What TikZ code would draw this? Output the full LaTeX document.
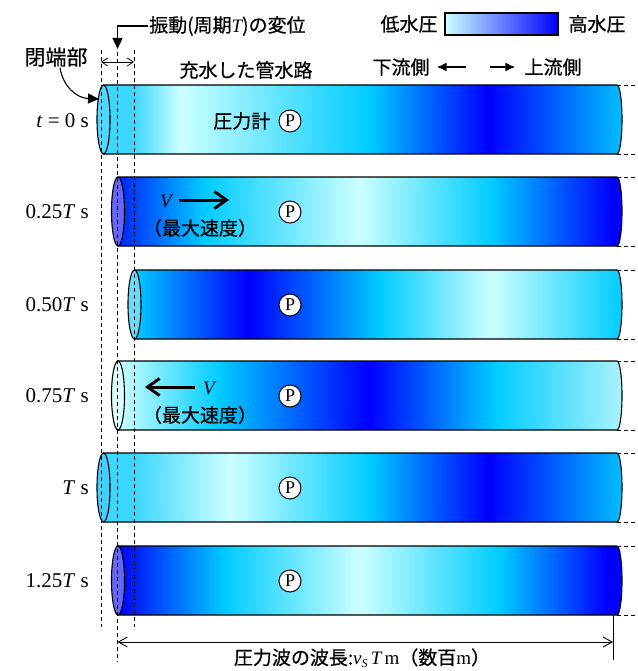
\documentclass[tikz,border=0pt]{standalone}
\usepackage{fontspec}
\setmainfont{Liberation Serif}
\newfontfamily\jpfont[FakeBold=0.6]{Noto Sans CJK JP}
\usetikzlibrary{arrows.meta,positioning}
\definecolor{plow}{HTML}{CCFFFF}
\definecolor{pmid}{HTML}{00CCFF}
\definecolor{phigh}{HTML}{0000FF}
\definecolor{pmidlow}{HTML}{3CD6FF}
\definecolor{pmidend}{HTML}{00BEFF}
\definecolor{plowend}{HTML}{AAF2FF}
\definecolor{phighend}{HTML}{0022FF}
\definecolor{capcyan}{HTML}{50D8FF}
\definecolor{capblue}{HTML}{6666F5}
\definecolor{capsky}{HTML}{66DDFF}
\definecolor{cappale}{HTML}{DDFFFF}
\definecolor{capaqua}{HTML}{44D0FF}
\newcommand{\serifit}[1]{{\rmfamily\itshape #1}}
% pressure profiles along the pipe, one per time step
\pgfdeclarehorizontalshading{wavezero}{100bp}{color(0bp)=(pmidlow); color(25bp)=(pmidlow);
  color(27.9bp)=(pmidlow); color(32.4bp)=(plow); color(50.6bp)=(pmid); color(62.1bp)=(phigh);
  color(75bp)=(pmidend); color(100bp)=(pmidend)}
\pgfdeclarehorizontalshading{wavequarter}{100bp}{color(0bp)=(phighend); color(25bp)=(phighend);
  color(33.6bp)=(pmid); color(48.9bp)=(plow); color(62.1bp)=(pmid); color(74bp)=(phigh);
  color(100bp)=(phigh)}
\pgfdeclarehorizontalshading{wavehalf}{100bp}{color(0bp)=(pmid); color(25bp)=(pmid);
  color(36.7bp)=(phigh); color(50.2bp)=(pmid); color(61.6bp)=(plow); color(75bp)=(pmid);
  color(100bp)=(pmid)}
\pgfdeclarehorizontalshading{wavethreeq}{100bp}{color(0bp)=(plow); color(25bp)=(plow);
  color(35bp)=(pmid); color(49.9bp)=(phigh); color(62.4bp)=(pmid); color(75bp)=(plowend);
  color(100bp)=(plowend)}
\pgfdeclarehorizontalshading{wavefull}{100bp}{color(0bp)=(pmidlow); color(25bp)=(pmidlow);
  color(27.9bp)=(pmidlow); color(37.2bp)=(plow); color(50.6bp)=(pmid); color(62.1bp)=(phigh);
  color(75bp)=(pmidend); color(100bp)=(pmidend)}
\pgfdeclarehorizontalshading{wavefiveq}{100bp}{color(0bp)=(phigh); color(25bp)=(phigh);
  color(35.6bp)=(pmid); color(49bp)=(plow); color(62.9bp)=(pmid); color(73.5bp)=(phigh);
  color(100bp)=(phigh)}
\tikzset{
  jp/.style={font=\jpfont\fontsize{19}{22}\selectfont,inner sep=1pt},
  tlabel/.style={anchor=east,inner sep=0pt,font=\fontsize{21}{24}\selectfont},
  vlabel/.style={inner sep=0pt,font=\fontsize{19}{19}\selectfont\itshape},
  pipe/.style={draw=black,line width=1.1pt},
  pipecap/.style={draw=black,line width=1.1pt},
  gauge/.style={circle,draw=black,fill=white,line width=1pt,minimum size=22pt,
                inner sep=0pt,font=\fontsize{18}{18}\selectfont},
  guide/.style={draw=black,line width=0.9pt,dash pattern=on 4pt off 3pt},
  velarr/.style={-{Straight Barb[length=12pt,width=17pt]},line width=3pt},
  flowarr/.style={-{Latex[length=10pt,width=9pt]},line width=1.5pt},
  leadarr/.style={-{Triangle[length=11pt,width=10pt]},line width=1.1pt},
  swingarr/.style={{Straight Barb[length=6pt,width=8pt]}-{Straight Barb[length=6pt,width=8pt]},
                   line width=0.8pt},
  dimarr/.style={{Straight Barb[length=9pt,width=10pt]}-{Straight Barb[length=9pt,width=10pt]},
                 line width=0.9pt}
}

\begin{document}
\begin{tikzpicture}[x=1pt,y=-1pt]
    \path[use as bounding box] (0,0) rectangle (637,671);

    % pressure scale
    \node[jp] (lowp) at (409,24) {低水圧};
    \shade[left color=plow,middle color=pmid,right color=phigh,draw=black,line width=1.8pt]
      (445,13) rectangle (558,35);
    \node[jp] (highp) at (597,24) {高水圧};

    % headings
    \node[jp,anchor=west] (disp) at (148,26) {振動(周期\serifit{T})の変位};
    \node[jp,font=\jpfont\fontsize{21}{24}\selectfont] (closed) at (56,57) {閉端部};
    \node[jp] (pipename) at (246,70) {充水した管水路};
    \node[jp] (down) at (401,67) {下流側};
    \node[jp] (up) at (553,67) {上流側};
    \draw[flowarr] ([xshift=35pt]down.east) -- ([xshift=6pt]down.east);
    \draw[flowarr] ([xshift=-33pt]up.west) -- ([xshift=-8pt]up.west);

    % t = 0
    \node[tlabel] (lab0) at (89,121) {\textit{t} = 0 s};
    \shade[pipe,shading=wavezero] (103.5,85) -- (617,85)
      arc[start angle=90,end angle=-90,x radius=5pt,y radius=34.5pt] -- (103.5,154) -- cycle;
    \draw[pipecap,fill=capcyan] (103.5,119.5) ellipse [x radius=6.5pt,y radius=34.5pt];
    \draw[guide] (617,85) -- (637,85) (617,154) -- (637,154);
    \node[gauge] (g0) at (290,121) {P};
    \node[jp,left=7pt of g0] (meter) {圧力計};

    % 0.25T
    \node[tlabel] (lab1) at (89,212) {0.25\textit{T} s};
    \shade[pipe,shading=wavequarter] (118,177) -- (617,177)
      arc[start angle=90,end angle=-90,x radius=5pt,y radius=34.5pt] -- (118,246) -- cycle;
    \draw[pipecap,fill=capblue] (118,211.5) ellipse [x radius=6.5pt,y radius=34.5pt];
    \draw[guide] (617,177) -- (637,177) (617,246) -- (637,246);
    \node[gauge] (g1) at (290,212) {P};
    \node[vlabel] (v1) at (166,201) {V};
    \coordinate (v1a) at (179,200);
    \coordinate (v1b) at (229,200);
    \draw[velarr] (v1a) -- (v1b);
    \node[jp] (vmax1) at (200,228) {（最大速度）};

    % 0.50T
    \node[tlabel] (lab2) at (89,305) {0.50\textit{T} s};
    \shade[pipe,shading=wavehalf] (134.5,270) -- (617,270)
      arc[start angle=90,end angle=-90,x radius=5pt,y radius=34.5pt] -- (134.5,339) -- cycle;
    \draw[pipecap,fill=capsky] (134.5,304.5) ellipse [x radius=6.5pt,y radius=34.5pt];
    \draw[guide] (617,270) -- (637,270) (617,339) -- (637,339);
    \node[gauge] (g2) at (290,305) {P};

    % 0.75T
    \node[tlabel] (lab3) at (89,396) {0.75\textit{T} s};
    \shade[pipe,shading=wavethreeq] (118,361) -- (617,361)
      arc[start angle=90,end angle=-90,x radius=5pt,y radius=34.5pt] -- (118,430) -- cycle;
    \draw[pipecap,fill=cappale] (118,395.5) ellipse [x radius=6.5pt,y radius=34.5pt];
    \draw[guide] (617,361) -- (637,361) (617,430) -- (637,430);
    \node[gauge] (g3) at (290,396) {P};
    \node[vlabel] (v3) at (209,388) {V};
    \coordinate (v3a) at (195,387);
    \coordinate (v3b) at (145,387);
    \draw[velarr] (v3a) -- (v3b);
    \node[jp] (vmax3) at (200,415) {（最大速度）};

    % T
    \node[tlabel] (lab4) at (89,488) {\textit{T} s};
    \shade[pipe,shading=wavefull] (103.5,453) -- (617,453)
      arc[start angle=90,end angle=-90,x radius=5pt,y radius=34.5pt] -- (103.5,522) -- cycle;
    \draw[pipecap,fill=capaqua] (103.5,487.5) ellipse [x radius=6.5pt,y radius=34.5pt];
    \draw[guide] (617,453) -- (637,453) (617,522) -- (637,522);
    \node[gauge] (g4) at (290,488) {P};

    % 1.25T
    \node[tlabel] (lab5) at (89,581) {1.25\textit{T} s};
    \shade[pipe,shading=wavefiveq] (118,546) -- (617,546)
      arc[start angle=90,end angle=-90,x radius=5pt,y radius=34.5pt] -- (118,615) -- cycle;
    \draw[pipecap,fill=capblue] (118,580.5) ellipse [x radius=6.5pt,y radius=34.5pt];
    \draw[guide] (617,546) -- (637,546) (617,615) -- (637,615);
    \node[gauge] (g5) at (290,581) {P};

    % end displacement marks
    \coordinate (da) at (101,50);
    \coordinate (db) at (101,627);
    \coordinate (ma) at (117.5,52);
    \coordinate (mb) at (117.5,662);
    \coordinate (ea) at (134,50);
    \coordinate (eb) at (134,627);
    \draw[guide] (da) -- (db);
    \draw[guide] (ma) -- (mb);
    \draw[guide] (ea) -- (eb);
    \coordinate (swa) at (101,62);
    \coordinate (swb) at (134,62);
    \draw[swingarr] (swa) -- (swb);
    \coordinate (disptip) at (117.5,49);
    \draw[leadarr] (disp.west) -| (disptip);
    \coordinate (closedtip) at (99,99);
    \draw[leadarr] ([xshift=4pt]closed.south) .. controls (63,86) and (76,98) .. (closedtip);

    % wavelength
    \coordinate (wla) at (117.5,642);
    \coordinate (wlb) at (613,642);
    \draw[dimarr] (wla) -- (wlb);
    \coordinate (wta) at (613,615);
    \coordinate (wtb) at (613,660);
    \draw[line width=0.9pt] (wta) -- (wtb);
    \node[jp] (wavelen) at (362,658) {圧力波の波長:\serifit{v}\raisebox{-3pt}{\fontsize{12}{12}\selectfont\serifit{S}}\,\serifit{T}\,{\rmfamily m}（数百{\rmfamily m}）};
\end{tikzpicture}
\end{document}
